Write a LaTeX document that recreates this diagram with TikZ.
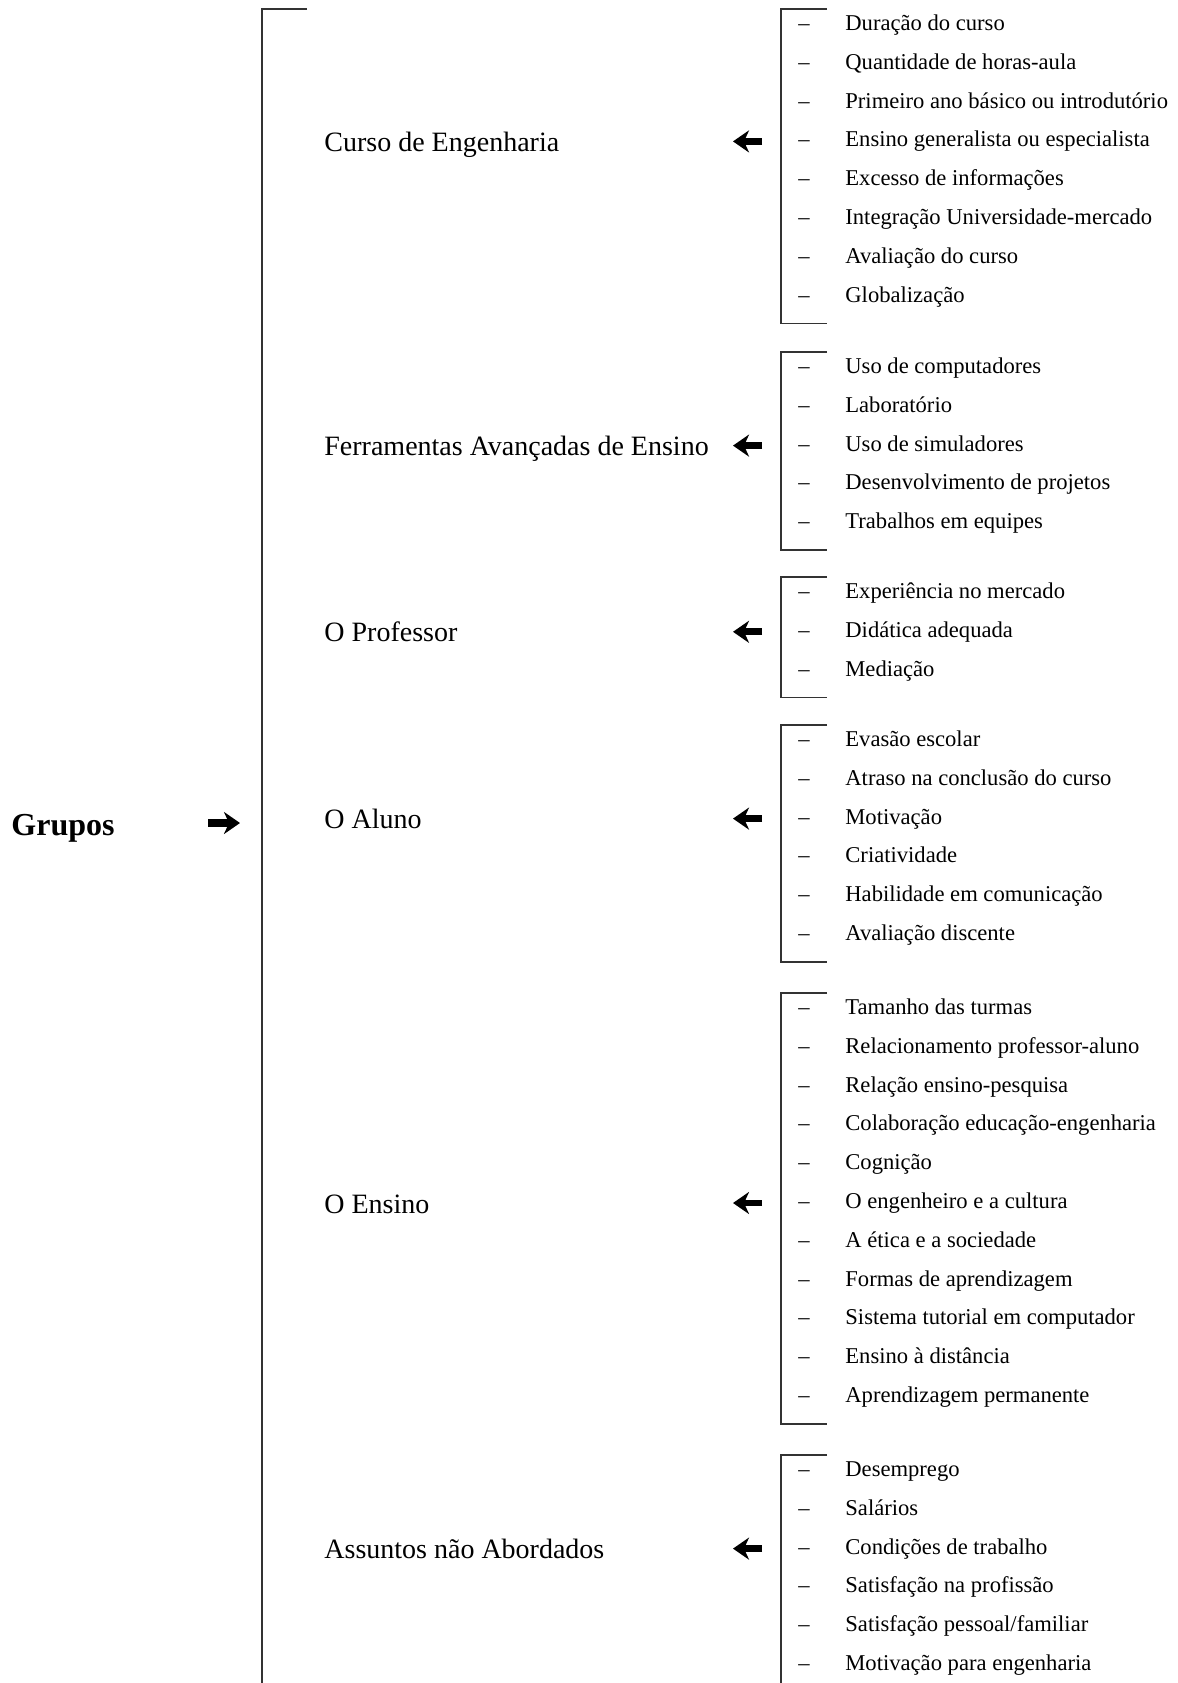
\documentclass[tikz,border=0pt]{standalone}
\usepackage{fontspec}
\setmainfont{Liberation Serif}
\usepackage{tikz}
\usetikzlibrary{arrows.meta,positioning}
\tikzstyle{itemtext}=[anchor=base west,inner sep=0pt,font=\fontsize{11.3}{13}\selectfont]
\tikzstyle{itemdash}=[anchor=base,inner sep=0pt,font=\fontsize{11.3}{13}\selectfont]
\tikzstyle{grouplabel}=[anchor=base west,inner sep=0pt,font=\fontsize{14}{16}\selectfont]
\tikzstyle{bracket}=[draw,line width=0.8pt,black!80]
\tikzstyle{bigarrow}=[line width=3.4pt,-{Stealth[length=8pt,width=11pt,inset=2.5pt]}]

\begin{document}
\begin{tikzpicture}[x=0.5pt,y=-0.5pt]

    \useasboundingbox (0,0) rectangle (1178,1683);
    \clip (0,0) rectangle (1178,1683);

    \node[anchor=base west,inner sep=0pt,font=\bfseries\fontsize{16}{18}\selectfont] (grupos) at (11,835) {Grupos};
    \draw[bracket] (307,9) -- (262,9) -- (262,1683);
    \coordinate (gtail) at (208,823);
    \coordinate (gtip) at (240,823);
    \draw[bigarrow,line width=3.8pt] (gtail) -- (gtip);

    % groups: number/top of bracket/items/row of label/label/items
    \foreach \g/\ytop/\n/\imid/\lab/\items in {
        1/9/8/3/{Curso de Engenharia}/{Duração do curso,Quantidade de horas-aula,Primeiro ano básico ou introdutório,Ensino generalista ou especialista,Excesso de informações,Integração Universidade-mercado,Avaliação do curso,Globalização},
        2/352/5/2/{Ferramentas Avançadas de Ensino}/{Uso de computadores,Laboratório,Uso de simuladores,Desenvolvimento de projetos,Trabalhos em equipes},
        3/577/3/1/{O Professor}/{Experiência no mercado,Didática adequada,Mediação},
        4/725/6/2/{O Aluno}/{Evasão escolar,Atraso na conclusão do curso,Motivação,Criatividade,Habilidade em comunicação,Avaliação discente},
        5/993/11/5/{O Ensino}/{Tamanho das turmas,Relacionamento professor-aluno,Relação ensino-pesquisa,Colaboração educação-engenharia,Cognição,O engenheiro e a cultura,A ética e a sociedade,Formas de aprendizagem,Sistema tutorial em computador,Ensino à distância,Aprendizagem permanente},
        6/1455/6/2/{Assuntos não Abordados}/{Desemprego,Salários,Condições de trabalho,Satisfação na profissão,{Satisfação pessoal/familiar},Motivação para engenharia}}
    {
        \pgfmathsetmacro{\ybot}{\ytop+43+(\n-1)*38.8}
        \pgfmathsetmacro{\ymid}{\ytop+16+\imid*38.8}
        \draw[bracket] (827,\ytop) -- (781,\ytop) -- (781,\ybot) -- (827,\ybot);
        \node[grouplabel] (lab\g) at (324,\ymid+10) {\lab};
        \foreach \txt [count=\k from 0] in \items {
            \pgfmathsetmacro{\yk}{\ytop+16+\k*38.8}
            \node[itemdash] (d\g-\k) at (804,\yk+5.5) {–};
            \node[itemtext] (it\g-\k) at (845,\yk+5.5) {\txt};
        }
        \coordinate (tail\g) at (762,\ymid);
        \coordinate (tip\g) at (733,\ymid);
        \draw[bigarrow] (tail\g) -- (tip\g);
    }

\end{tikzpicture}
\end{document}
